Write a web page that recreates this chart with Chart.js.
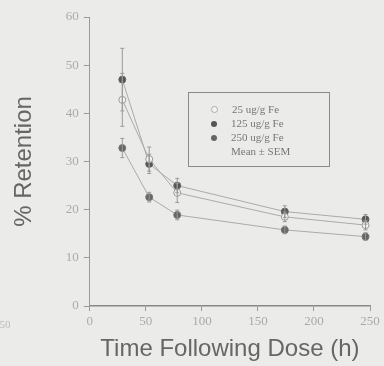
<!DOCTYPE html>
<html>
<head>
<meta charset="utf-8">
<script src="https://cdn.jsdelivr.net/npm/chart.js@4"></script>
<style>
  html, body { margin: 0; padding: 0; background: #ebebe9; }
  #wrap { position: relative; width: 384px; height: 366px; }
  #legendBox {
    position: absolute; left: 188px; top: 92px; width: 142px; height: 75px;
    border: 1px solid #8a8a8a; box-sizing: border-box;
    font-family: "Liberation Serif", serif; font-size: 11px; color: #777;
    padding: 9px 0 0 22px; line-height: 14px;
  }
  #legendBox .row { white-space: nowrap; }
  #legendBox .dot { display: inline-block; width: 6px; height: 6px; border-radius: 50%; margin-right: 14px; vertical-align: 0px; }
  #stray { position: absolute; left: -6px; top: 318px; font-family: "Liberation Serif", serif; font-size: 11px; color: #bbb; }
</style>
</head>
<body>
<div id="wrap">
  <canvas id="retChart" width="384" height="366"></canvas>
  <div id="legendBox">
    <div class="row"><span class="dot" style="background:#f4f4f2;border:1px solid #aaa;width:5px;height:5px"></span>25 ug/g Fe</div>
    <div class="row"><span class="dot" style="background:#555"></span>125 ug/g Fe</div>
    <div class="row"><span class="dot" style="background:#666"></span>250 ug/g Fe</div>
    <div class="row"><span class="dot" style="background:transparent"></span>Mean ± SEM</div>
  </div>
  <div id="stray">250</div>
</div>
<script>
/* 데이터 */
const hours = [29, 53, 78, 174, 246];
const low25 = [42.8, 30.5, 23.5, 18.5, 16.8];
const low25Err = [5.5, 2.5, 2, 1, 1];
const mid125 = [47, 29.5, 25, 19.6, 18];
const mid125Err = [6.5, 2, 1.5, 1.2, 1];
const high250 = [32.8, 22.6, 18.9, 15.8, 14.4];
const high250Err = [2, 1, 1, 0.8, 0.8];
const yTicks = [0, 10, 20, 30, 40, 50, 60];
const xTicks = [0, 50, 100, 150, 200, 250];

function toPoints(ys) {
    return hours.map((h, i) => ({ x: h, y: ys[i] }));
}

/* 에러바 플러그인 */
const errorBars = {
    id: 'errorBars',
    afterDatasetsDraw(chart) {
        const ctx = chart.ctx;
        const xs = chart.scales.x, ys = chart.scales.y;
        chart.data.datasets.forEach(ds => {
            if (!ds.errors) return;
            ctx.save();
            ctx.strokeStyle = '#999';
            ctx.lineWidth = 1;
            ds.data.forEach((p, i) => {
                const e = ds.errors[i];
                const px = xs.getPixelForValue(p.x);
                const top = ys.getPixelForValue(p.y + e);
                const bot = ys.getPixelForValue(p.y - e);
                ctx.beginPath();
                ctx.moveTo(px, top); ctx.lineTo(px, bot);
                ctx.moveTo(px - 2, top); ctx.lineTo(px + 2, top);
                ctx.moveTo(px - 2, bot); ctx.lineTo(px + 2, bot);
                ctx.stroke();
            });
            ctx.restore();
        });
    }
};

new Chart(document.getElementById('retChart'), {
    type: 'scatter',
    data: {
        datasets: [
            {
                label: '250 ug/g Fe', data: toPoints(high250), errors: high250Err,
                showLine: true, borderColor: '#aaa', borderWidth: 1,
                pointRadius: 3.5, pointBackgroundColor: '#666', pointBorderColor: '#777'
            },
            {
                label: '25 ug/g Fe', data: toPoints(low25), errors: low25Err,
                showLine: true, borderColor: '#aaa', borderWidth: 1,
                pointRadius: 3.5, pointBackgroundColor: '#f2f2f0', pointBorderColor: '#999'
            },
            {
                label: '125 ug/g Fe', data: toPoints(mid125), errors: mid125Err,
                showLine: true, borderColor: '#aaa', borderWidth: 1,
                pointRadius: 3.5, pointBackgroundColor: '#555', pointBorderColor: '#666'
            }
        ]
    },
    options: {
        responsive: false,
        animation: false,
        layout: { padding: { left: 6, right: 14, top: 17, bottom: 2 } },
        plugins: { legend: { display: false }, tooltip: { enabled: false } },
        scales: {
            x: {
                type: 'linear', min: 0, max: 250,
                afterBuildTicks: axis => { axis.ticks = xTicks.map(v => ({ value: v })); },
                afterFit: axis => { axis.height = 58; },
                border: { color: '#888', width: 1.5 },
                grid: { drawOnChartArea: false, tickLength: 5, color: '#999' },
                ticks: { color: '#aaa', font: { family: 'Liberation Serif', size: 13 }, padding: 3 },
                title: { display: true, text: 'Time Following Dose (h)', color: '#666',
                         font: { family: 'Liberation Sans', size: 24 }, padding: { top: 0, bottom: 0 } }
            },
            y: {
                min: 0, max: 60,
                afterBuildTicks: axis => { axis.ticks = yTicks.map(v => ({ value: v })); },
                border: { color: '#999', width: 1 },
                grid: { drawOnChartArea: false, tickLength: 6, color: '#999' },
                ticks: { color: '#aaa', font: { family: 'Liberation Serif', size: 13 }, padding: 5 },
                title: { display: true, text: '% Retention', color: '#666',
                         font: { family: 'Liberation Sans', size: 24 }, padding: { bottom: 22 } }
            }
        }
    },
    plugins: [errorBars]
});
</script>
</body>
</html>
